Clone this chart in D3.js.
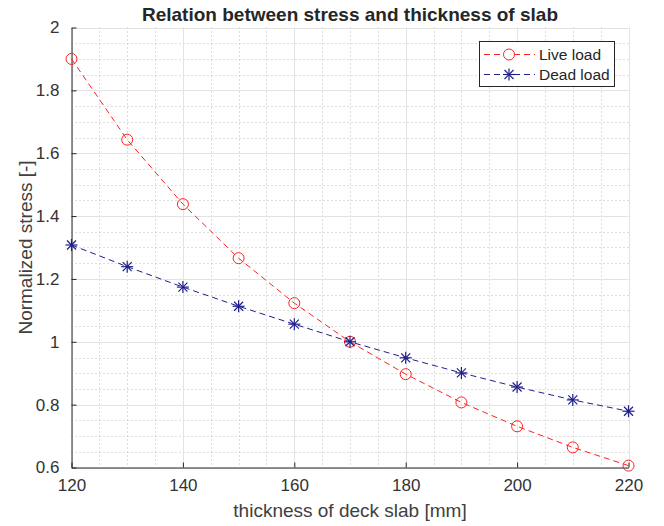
<!DOCTYPE html>
<html><head><meta charset="utf-8">
<script src="https://cdn.jsdelivr.net/npm/d3@7"></script>
<style>body{margin:0;background:#fff;} svg{display:block;font-family:"Liberation Sans",Arial,sans-serif;}</style>
</head><body>
<svg id="chart" width="664" height="526"></svg>
<script>
const thickness = [120,130,140,150,160,170,180,190,200,210,220];
const liveLoad = [1.900,1.643,1.438,1.266,1.123,1.000,0.897,0.807,0.731,0.664,0.606];
const deadLoad = [1.308,1.239,1.174,1.113,1.056,1.000,0.949,0.901,0.856,0.815,0.779];
const xTicks = [120,140,160,180,200,220];
const yTicks = [0.6,0.8,1,1.2,1.4,1.6,1.8,2];
const seriesNames = ["Live load","Dead load"];

const svg = d3.select("#chart");
const m = {l:71.5, r:628.5, t:27.5, b:467.5};
const x = d3.scaleLinear().domain([120,220]).range([m.l,m.r]);
const y = d3.scaleLinear().domain([0.6,2]).range([m.b,m.t]);

// minor grid
const xMinor = d3.range(120,220.1,5).filter(v=>v%20!==0);
const yMinor = d3.range(0.6,2.001,0.05).filter(v=>Math.abs(Math.round(v*5)-v*5)>1e-6);
const g = svg.append("g");
g.selectAll(".xm").data(xMinor).enter().append("line")
  .attr("x1",d=>Math.round(x(d))+0.5).attr("x2",d=>Math.round(x(d))+0.5).attr("y1",m.t).attr("y2",m.b)
  .attr("stroke","#bdbdbd").attr("stroke-width",1).attr("stroke-dasharray","1,3");
g.selectAll(".ym").data(yMinor).enter().append("line")
  .attr("y1",d=>Math.round(y(d))+0.5).attr("y2",d=>Math.round(y(d))+0.5).attr("x1",m.l).attr("x2",m.r)
  .attr("stroke","#bdbdbd").attr("stroke-width",1).attr("stroke-dasharray","1,3");
// major grid
g.selectAll(".xM").data(xTicks).enter().append("line")
  .attr("x1",d=>Math.round(x(d))+0.5).attr("x2",d=>Math.round(x(d))+0.5).attr("y1",m.t).attr("y2",m.b)
  .attr("stroke","#e3e3e3").attr("stroke-width",1);
g.selectAll(".yM").data(yTicks).enter().append("line")
  .attr("y1",d=>Math.round(y(d))+0.5).attr("y2",d=>Math.round(y(d))+0.5).attr("x1",m.l).attr("x2",m.r)
  .attr("stroke","#e3e3e3").attr("stroke-width",1);

// axes
const xAxis = d3.axisBottom(x).tickValues(xTicks).tickSizeInner(-5).tickSizeOuter(0).tickPadding(11).tickFormat(d3.format("d"));
const yAxis = d3.axisLeft(y).tickValues(yTicks).tickSizeInner(-5).tickSizeOuter(0).tickPadding(12).tickFormat(d=>d3.format("")(d));
const ax = svg.append("g").attr("transform",`translate(0,${m.b})`).call(xAxis);
const ay = svg.append("g").attr("transform",`translate(${m.l},0)`).call(yAxis);
[ax,ay].forEach(a=>{
  a.attr("font-size",null).attr("font-family",null);
  a.select(".domain").attr("stroke","#262626").attr("stroke-width",1);
  a.selectAll(".tick line").attr("stroke","#262626");
  a.selectAll(".tick text").attr("fill","#333333").style("font-size","17px").style("font-family","'Liberation Sans',Arial,sans-serif");
});

// lines
const line = d3.line().x((d,i)=>x(thickness[i])).y(d=>y(d));
const liveColor = "#ff2020", deadColor = "#1f1f8c";
svg.append("path").datum(liveLoad).attr("d",line).attr("fill","none")
  .attr("stroke",liveColor).attr("stroke-width",1).attr("stroke-dasharray","6,4");
svg.append("path").datum(deadLoad).attr("d",line).attr("fill","none")
  .attr("stroke",deadColor).attr("stroke-width",1).attr("stroke-dasharray","6,4");

function star(sel, cx, cy, r, color){
  const gg = sel.append("g").attr("transform",`translate(${cx},${cy})`).attr("stroke",color).attr("stroke-width",1.2);
  gg.append("line").attr("x1",-r).attr("x2",r).attr("y1",0).attr("y2",0);
  gg.append("line").attr("y1",-r).attr("y2",r).attr("x1",0).attr("x2",0);
  const d = r*0.75;
  gg.append("line").attr("x1",-d).attr("x2",d).attr("y1",-d).attr("y2",d);
  gg.append("line").attr("x1",-d).attr("x2",d).attr("y1",d).attr("y2",-d);
}
svg.append("g").selectAll("circle").data(liveLoad).enter().append("circle")
  .attr("cx",(d,i)=>x(thickness[i])).attr("cy",d=>y(d)).attr("r",5.5)
  .attr("fill","none").attr("stroke",liveColor).attr("stroke-width",1);
const sg = svg.append("g");
deadLoad.forEach((d,i)=>star(sg, x(thickness[i]), y(d), 6, deadColor));

// legend
const lg = svg.append("g");
lg.append("rect").attr("x",479.5).attr("y",41.5).attr("width",135).attr("height",45)
  .attr("fill","#fff").attr("stroke","#262626").attr("stroke-width",1);
[[liveColor,"circle"],[deadColor,"star"]].forEach((s,i)=>{
  const yy = 54.5 + i*20;
  lg.append("line").attr("x1",484).attr("x2",535).attr("y1",yy).attr("y2",yy)
    .attr("stroke",s[0]).attr("stroke-width",1).attr("stroke-dasharray","6,4");
  if(s[1]==="circle") lg.append("circle").attr("cx",509).attr("cy",yy).attr("r",5.5).attr("fill","#fff").attr("stroke",s[0]);
  else star(lg,509,yy,6,s[0]);
  lg.append("text").attr("x",539).attr("y",yy+5.5).text(seriesNames[i])
    .attr("fill","#262626").style("font-size","15.5px");
});

// labels
svg.append("text").attr("x",(m.l+m.r)/2).attr("y",21).attr("text-anchor","middle")
  .style("font-size","19px").style("font-weight","bold").attr("fill","#262626")
  .text("Relation between stress and thickness of slab");
svg.append("text").attr("x",(m.l+m.r)/2).attr("y",517).attr("text-anchor","middle")
  .style("font-size","19px").attr("fill","#404040").text("thickness of deck slab [mm]");
svg.append("text").attr("transform",`translate(32,${(m.t+m.b)/2}) rotate(-90)`).attr("text-anchor","middle")
  .style("font-size","19px").attr("fill","#404040").text("Normalized stress [-]");
</script>
</body></html>
